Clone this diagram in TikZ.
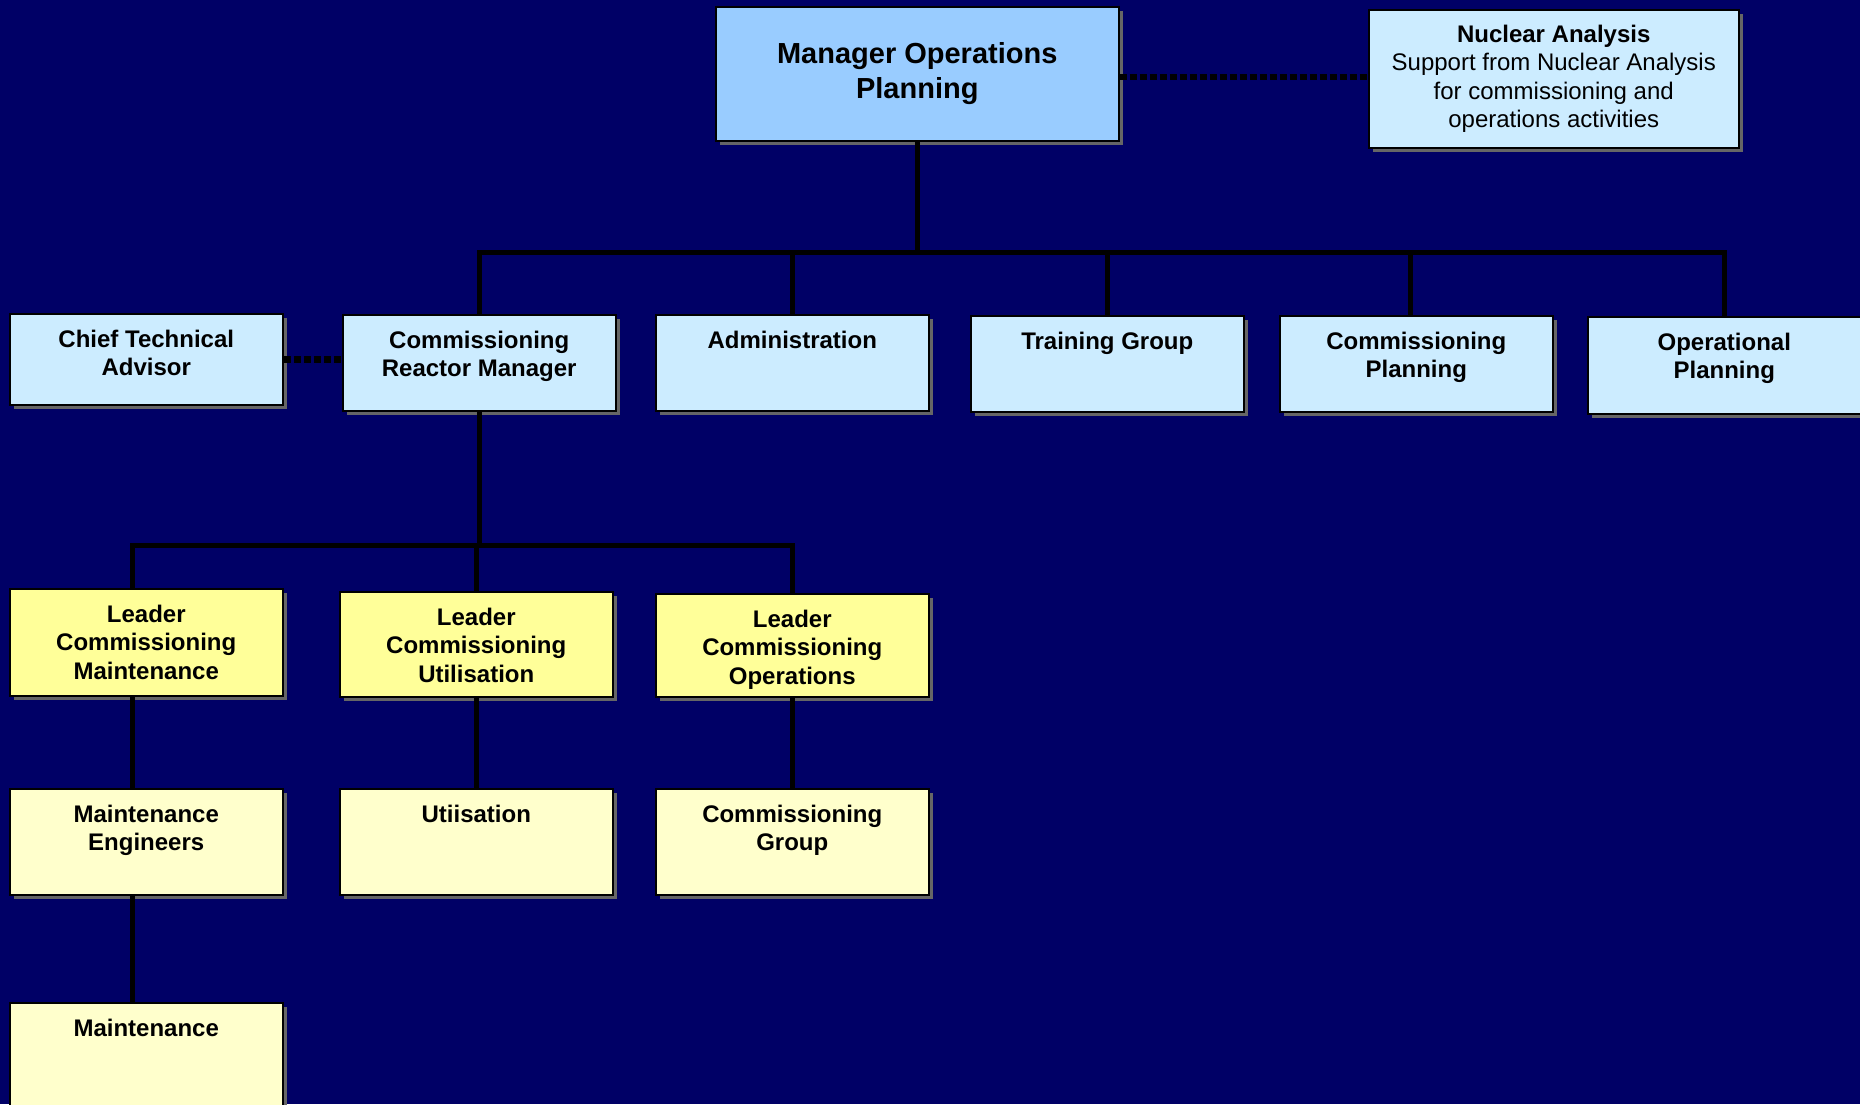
\documentclass[tikz,border=0pt]{standalone}
\usepackage{fontspec}
\setmainfont{Liberation Sans}
\usetikzlibrary{shadows}
\definecolor{bgnavy}{HTML}{000066}
\definecolor{mopblue}{HTML}{99CCFF}
\definecolor{lblue}{HTML}{CCECFF}
\definecolor{yel}{HTML}{FFFF99}
\definecolor{lyel}{HTML}{FFFFCC}
\newcommand\tbx[2]{\parbox[c][#1][t]{262pt}{\centering\rule{0pt}{33.5pt}#2}}
\tikzset{
  orgbox/.style={draw=black, line width=1.5pt, inner sep=0pt, anchor=north west,
    minimum width=273pt, align=center,
    font=\fontsize{24}{28.5}\selectfont\bfseries,
    drop shadow={shadow xshift=4pt, shadow yshift=-4pt, fill=gray!80!black, opacity=1}},
  bluebox/.style={orgbox, fill=lblue},
  yelbox/.style={orgbox, fill=yel},
  lyelbox/.style={orgbox, fill=lyel},
  conn/.style={draw=black, line width=5pt},
  dotconn/.style={draw=black, line width=6.5pt, dash pattern=on 7pt off 3pt}
}
\begin{document}
\begin{tikzpicture}[x=1pt, y=-1pt]
\fill[bgnavy] (0,0) rectangle (1860,1104);
\useasboundingbox (0,0) rectangle (1860,1104);

% top level
\node[orgbox, fill=mopblue, minimum width=403pt, minimum height=134pt,
  font=\fontsize{29}{35}\selectfont\bfseries] (mop) at (715,6)
  {Manager Operations\\Planning};
\node[orgbox, fill=lblue, minimum width=370pt, minimum height=138pt,
  font=\fontsize{24}{28.6}\selectfont] (na) at (1368,9)
  {\textbf{Nuclear Analysis}\\Support from Nuclear Analysis\\for commissioning and\\operations activities};

% second row
\node[bluebox] (cta) at (9,313) {\tbx{91pt}{Chief Technical\\Advisor}};
\node[bluebox] (crm) at (342,314) {\tbx{96pt}{Commissioning\\Reactor Manager}};
\node[bluebox] (adm) at (655,314) {\tbx{96pt}{Administration}};
\node[bluebox] (trg) at (970,315) {\tbx{96pt}{Training Group}};
\node[bluebox] (cpl) at (1279,315) {\tbx{96pt}{Commissioning\\Planning}};
\node[bluebox] (opl) at (1587,316) {\tbx{97pt}{Operational\\Planning}};

% leaders
\node[yelbox] (lcm) at (9,588) {\tbx{107pt}{Leader\\Commissioning\\Maintenance}};
\node[yelbox] (lcu) at (339,591) {\tbx{105pt}{Leader\\Commissioning\\Utilisation}};
\node[yelbox] (lco) at (655,593) {\tbx{103pt}{Leader\\Commissioning\\Operations}};

% groups
\node[lyelbox] (me) at (9,788) {\tbx{106pt}{Maintenance\\Engineers}};
\node[lyelbox] (uti) at (339,788) {\tbx{106pt}{Utiisation}};
\node[lyelbox] (cg) at (655,788) {\tbx{106pt}{Commissioning\\Group}};
\node[lyelbox] (mnt) at (9,1002) {\tbx{130pt}{Maintenance}};

% helper coordinates
\coordinate (bus1) at (0,252);
\coordinate (bus2) at (0,545);
\coordinate (lx) at (132,0);
\coordinate (cpx) at (1410,0);
\coordinate (d1) at ([yshift=-3pt]mop.east);

% connectors
\draw[dotconn] (d1) -- (d1 -| na.west);
\draw[dotconn] (cta.east) -- (cta.east -| crm.west);
\draw[conn] (mop.south) -- (mop.south |- bus1);
\draw[conn] (crm.north) -- (crm.north |- bus1) -- (opl.north |- bus1) -- (opl.north);
\draw[conn] (adm.north |- bus1) -- (adm.north);
\draw[conn] (trg.north |- bus1) -- (trg.north);
\draw[conn] (cpx |- bus1) -- (cpx |- cpl.north);
\draw[conn] (crm.south) -- (crm.south |- bus2);
\draw[conn] (lx |- lcm.north) -- (lx |- bus2) -- (lco.north |- bus2) -- (lco.north);
\draw[conn] (lcu.north |- bus2) -- (lcu.north);
\draw[conn] (lx |- lcm.south) -- (lx |- me.north);
\draw[conn] (lx |- me.south) -- (lx |- mnt.north);
\draw[conn] (lcu.south) -- (uti.north);
\draw[conn] (lco.south) -- (cg.north);
\end{tikzpicture}
\end{document}
